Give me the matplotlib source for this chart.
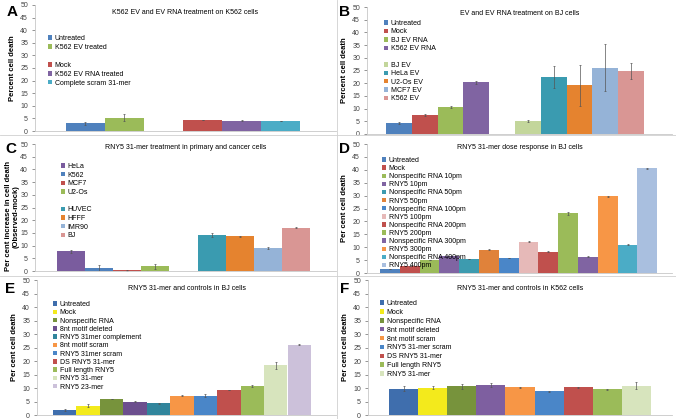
import numpy as np
import matplotlib
matplotlib.use('Agg')
import matplotlib.pyplot as plt
from matplotlib.patches import Patch
from matplotlib.lines import Line2D

plt.rcParams['font.family'] = ['Liberation Sans', 'DejaVu Sans']

W, H = 676, 419

# ---- data ----
a_labels = ['Untreated', 'K562 EV treated', None, 'Mock', 'K562 EV RNA treated', 'Complete scram 31-mer']
a_vals = [3.0, 5.3, None, 4.4, 4.1, 4.0]
a_err = [0.6, 1.5, None, 0.1, 0.1, 0.1]
a_cols = ['#4F81BD', '#9BBB59', None, '#C0504D', '#8064A2', '#4BACC6']

b_labels = ['Untreated', 'Mock', 'BJ EV RNA', 'K562 EV RNA', None,
            'BJ EV', 'HeLa EV', 'U2-Os EV', 'MCF7 EV', 'K562 EV']
b_vals = [4.4, 7.4, 10.5, 20.4, None, 5.0, 22.6, 19.1, 26.1, 24.8]
b_err = [0.5, 0.4, 0.4, 0.6, None, 0.4, 4.3, 8.0, 9.3, 3.0]
b_cols = ['#4F81BD', '#C0504D', '#9BBB59', '#8064A2', None,
          '#C3D69B', '#3A9BB0', '#E5832F', '#95B3D7', '#D99694']

c_labels = ['HeLa', 'K562', 'MCF7', 'U2-Os', None, 'HUVEC', 'HFFF', 'IMR90', 'BJ']
c_vals = [7.7, 1.0, 0.2, 1.9, None, 14.1, 13.6, 9.2, 17.1]
c_err = [0.6, 1.2, 0.1, 1.0, None, 0.7, 0.2, 0.4, 0.2]
c_cols = ['#7A5C9E', '#4F81BD', '#C0504D', '#9BBB59', None,
          '#3A9BB0', '#E5832F', '#95B3D7', '#D99694']

d_labels = ['Untreated', 'Mock', 'Nonspecific RNA 10pm', 'RNY5 10pm', 'Nonspecific RNA 50pm',
            'RNY5 50pm', 'Nonspecific RNA 100pm', 'RNY5 100pm', 'Nonspecific RNA 200pm',
            'RNY5 200pm', 'Nonspecific RNA 300pm', 'RNY5 300pm', 'Nonspecific RNA 400pm', 'RNY5 400pm']
d_vals = [1.5, 2.7, 5.0, 6.5, 5.5, 9.0, 5.8, 12.1, 8.3, 23.1, 6.3, 29.8, 11.0, 40.6]
d_err = [0.1, 0.1, 0.1, 0.1, 0.1, 0.2, 0.1, 0.2, 0.1, 0.7, 0.1, 0.2, 0.2, 0.2]
d_cols = ['#4F81BD', '#C0504D', '#9BBB59', '#8064A2', '#3D9BAF', '#E0823A', '#4A86C8',
          '#E6B9B8', '#C0504D', '#9BBB59', '#8064A2', '#F79646', '#4BACC6', '#A9BFDF']

e_labels = ['Untreated', 'Mock', 'Nonspecific RNA', '8nt motif deleted', 'RNY5 31mer complement',
            '8nt motif scram', 'RNY5 31mer scram', 'DS RNY5 31-mer', 'Full length RNY5',
            'RNY5 31-mer', 'RNY5 23-mer']
e_vals = [1.9, 3.4, 5.9, 5.0, 4.3, 7.2, 7.2, 9.3, 10.7, 18.5, 26.0]
e_err = [0.5, 0.6, 0.1, 0.3, 0.2, 0.1, 0.6, 0.1, 0.3, 1.3, 0.2]
e_cols = ['#3F6EAD', '#F3EA1C', '#77933C', '#6C4F8E', '#31859C', '#F79646',
          '#4A86C8', '#C0504D', '#9BBB59', '#D7E4BD', '#CCC1DA']

f_labels = ['Untreated', 'Mock', 'Nonspecific RNA', '8nt motif deleted', '8nt motif scram',
            'RNY5 31-mer scram', 'DS RNY5 31-mer', 'Full length RNY5', 'RNY5 31-mer']
f_vals = [9.8, 10.1, 10.6, 11.2, 10.3, 8.8, 10.3, 9.6, 10.8]
f_err = [0.8, 0.5, 1.0, 0.8, 0.2, 0.2, 0.2, 0.2, 1.3]
f_cols = ['#3F6EAD', '#F3EA1C', '#77933C', '#7E5FA0', '#F79646',
          '#4A86C8', '#C0504D', '#9BBB59', '#D7E4BD']

fig = plt.figure(figsize=(W / 100, H / 100), dpi=100)


def panel(letter, title, ylabel, labels, vals, errs, cols,
          box, first_px, slot_px, leg_xy, leg_sp, letter_xy, title_y, ylab_y=0.5):
    l, t, r, b = box
    ax = fig.add_axes([l / W, 1 - b / H, (r - l) / W, (b - t) / H])
    x = np.arange(len(vals))
    handles = []
    for i in range(len(vals)):
        if vals[i] is None:
            handles.append(Patch(facecolor='none', edgecolor='none', label=' '))
            continue
        ax.bar(x[i], vals[i], width=1.0, color=cols[i], linewidth=0)
        ax.errorbar(x[i], vals[i], yerr=errs[i], fmt='none', ecolor='#555555',
                    elinewidth=0.5, capsize=1, capthick=0.5)
        handles.append(Patch(facecolor=cols[i], edgecolor='none', label=labels[i]))
    x0 = -0.5 - (first_px - l) / slot_px
    ax.set_xlim(x0, x0 + (r - l) / slot_px)
    ax.set_ylim(0, 50)
    ax.set_yticks(np.arange(0, 51, 5))
    ax.set_xticks([])
    ax.tick_params(axis='y', labelsize=5, colors='#444444', length=2, width=0.4, pad=3)
    for s in ['top', 'right']:
        ax.spines[s].set_visible(False)
    for s in ['left', 'bottom']:
        ax.spines[s].set_color('#c8c8c8')
        ax.spines[s].set_linewidth(0.6)
    ax.set_ylabel(ylabel, fontsize=5.5, fontweight='bold', labelpad=3)
    if ylab_y != 0.5:
        ax.yaxis.set_label_coords(-0.05, ylab_y)
    ax.text(0.5, title_y, title, transform=ax.transAxes, ha='center', va='center', fontsize=5)
    ax.legend(handles=handles, loc='upper left',
              bbox_to_anchor=(leg_xy[0] / W, 1 - leg_xy[1] / H), bbox_transform=fig.transFigure,
              fontsize=5, frameon=False, handlelength=0.6, handleheight=0.6,
              handletextpad=0.35, labelspacing=leg_sp, borderpad=0, borderaxespad=0)
    fig.text(letter_xy[0] / W, 1 - letter_xy[1] / H, letter, fontsize=11, fontweight='bold',
             ha='left', va='center')
    return ax


panel('A', 'K562 EV and EV RNA treatment on K562 cells', 'Percent cell death',
      a_labels, a_vals, a_err, a_cols, (35, 5, 336, 131), 66, 39, (48, 35), 0.28, (7, 12), 0.94)
panel('B', 'EV and EV RNA treatment on BJ cells', 'Percent cell death',
      b_labels, b_vals, b_err, b_cols, (367, 7, 672, 134), 386, 25.8, (384, 20), 0.2, (339, 12), 0.95)
panel('C', 'RNY5 31-mer treatment in primary and cancer cells',
      'Per cent increase in cell death\n(Observed-mock)',
      c_labels, c_vals, c_err, c_cols, (35, 144, 336, 271), 57, 28.1, (61, 163), 0.24, (5, 149), 0.97,
      ylab_y=0.43)
panel('D', 'RNY5 31-mer dose response in BJ cells', 'Per cent cell death',
      d_labels, d_vals, d_err, d_cols, (367, 144, 672, 273), 380, 19.8, (382, 157), 0.16, (339, 149), 0.97)
panel('E', 'RNY5 31-mer and controls in BJ cells', 'Per cent cell death',
      e_labels, e_vals, e_err, e_cols, (37, 280, 336, 415), 53, 23.45, (53, 301), 0.18, (5, 289), 0.94)
panel('F', 'RNY5 31-mer and controls in K562 cells', 'Per cent cell death',
      f_labels, f_vals, f_err, f_cols, (368, 280, 672, 415), 389, 29.1, (380, 300), 0.27, (340, 289), 0.94)

# panel separators
fig.add_artist(Line2D([0, 1], [1 - 135 / H, 1 - 135 / H], transform=fig.transFigure,
                      color='#d0d0d0', lw=0.6))
fig.add_artist(Line2D([0, 1], [1 - 276 / H, 1 - 276 / H], transform=fig.transFigure,
                      color='#d0d0d0', lw=0.6))
fig.add_artist(Line2D([337 / W, 337 / W], [0, 1], transform=fig.transFigure,
                      color='#d0d0d0', lw=0.6))

fig.savefig('out.png', dpi=100)
